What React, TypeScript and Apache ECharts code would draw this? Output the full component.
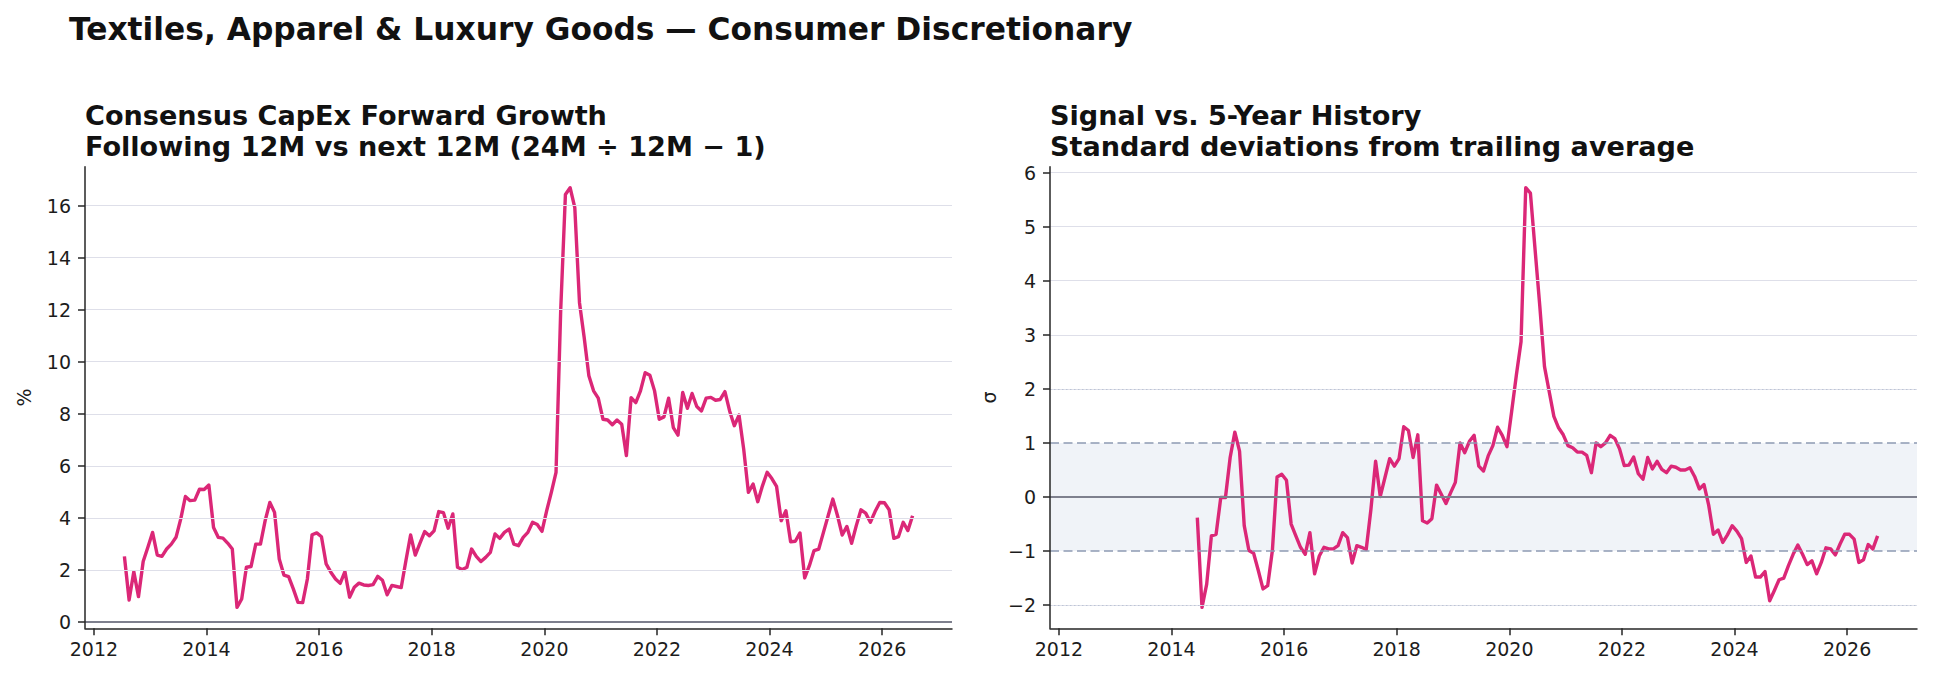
import React, { useEffect, useRef } from "react";
import * as echarts from "echarts";

// First monthly observation: July 2012
const startYear = 2012;
const startMonth = 7;
// The 5-year z-score needs 24 months of history before its first value
const sigmaStartOffset = 23;

// Consensus CapEx forward growth, % (monthly)
const capexGrowth = [
  2.52, 0.84, 1.93, 0.97, 2.32, 2.87, 3.44, 2.57, 2.52, 2.8, 2.99, 3.25,
  3.95, 4.82, 4.66, 4.68, 5.1, 5.09, 5.26, 3.63, 3.25, 3.22, 3.03, 2.8,
  0.56, 0.88, 2.1, 2.13, 2.99, 2.99, 3.89, 4.59, 4.21, 2.42, 1.8, 1.74,
  1.27, 0.75, 0.74, 1.65, 3.35, 3.42, 3.27, 2.23, 1.91, 1.65, 1.48, 1.93,
  0.95, 1.33, 1.49, 1.42, 1.4, 1.43, 1.75, 1.6, 1.04, 1.4, 1.36, 1.32,
  2.35, 3.34, 2.57, 3.03, 3.47, 3.31, 3.5, 4.24, 4.2, 3.6, 4.15, 2.1,
  2.01, 2.1, 2.8, 2.52, 2.32, 2.48, 2.67, 3.38, 3.21, 3.44, 3.57, 2.99,
  2.93, 3.25, 3.44, 3.83, 3.74, 3.48, 4.27, 4.98, 5.75, 12.0, 16.43, 16.69,
  15.92, 12.27, 10.93, 9.46, 8.88, 8.6, 7.79, 7.76, 7.58, 7.76, 7.6, 6.39,
  8.62, 8.43, 8.88, 9.58, 9.48, 8.88, 7.79, 7.88, 8.6, 7.47, 7.18, 8.82,
  8.21, 8.78, 8.28, 8.11, 8.6, 8.63, 8.52, 8.55, 8.85, 8.11, 7.54, 7.95,
  6.64, 4.98, 5.3, 4.62, 5.23, 5.75, 5.51, 5.21, 3.89, 4.27, 3.08, 3.1,
  3.42, 1.69, 2.16, 2.74, 2.8, 3.44, 4.08, 4.72, 4.08, 3.34, 3.67, 3.02,
  3.7, 4.31, 4.18, 3.83, 4.24, 4.59, 4.58, 4.31, 3.21, 3.28, 3.83, 3.51,
  4.08,
];

// Signal vs. trailing 5-year history, standard deviations (monthly)
const zScore = [
  -0.38, -2.04, -1.61, -0.72, -0.69, -0.01, -0.01, 0.73, 1.2, 0.85, -0.53, -0.99,
  -1.04, -1.36, -1.7, -1.64, -0.99, 0.37, 0.42, 0.31, -0.5, -0.72, -0.93, -1.06,
  -0.66, -1.42, -1.09, -0.93, -0.96, -0.96, -0.9, -0.66, -0.75, -1.22, -0.9, -0.93,
  -0.97, -0.23, 0.66, 0.01, 0.36, 0.71, 0.57, 0.71, 1.3, 1.23, 0.73, 1.15,
  -0.44, -0.48, -0.4, 0.22, 0.05, -0.12, 0.08, 0.27, 1.0, 0.82, 1.03, 1.14,
  0.57, 0.48, 0.76, 0.95, 1.29, 1.14, 0.93, 1.58, 2.25, 2.87, 5.72, 5.62,
  4.57, 3.53, 2.41, 1.95, 1.49, 1.28, 1.15, 0.95, 0.91, 0.83, 0.83, 0.77,
  0.45, 1.0, 0.93, 1.0, 1.14, 1.08, 0.89, 0.58, 0.59, 0.74, 0.43, 0.33,
  0.73, 0.52, 0.66, 0.51, 0.45, 0.57, 0.55, 0.5, 0.5, 0.54, 0.38, 0.15,
  0.23, -0.15, -0.69, -0.61, -0.84, -0.7, -0.53, -0.63, -0.77, -1.21, -1.09, -1.48,
  -1.48, -1.38, -1.92, -1.73, -1.53, -1.5, -1.27, -1.06, -0.89, -1.06, -1.25, -1.18,
  -1.42, -1.21, -0.94, -0.96, -1.07, -0.87, -0.69, -0.69, -0.78, -1.21, -1.16, -0.88,
  -0.96, -0.72,
];

const yearTicks = [2012, 2014, 2016, 2018, 2020, 2022, 2024, 2026];
const growthTicks = [0, 2, 4, 6, 8, 10, 12, 14, 16];
const sigmaTicks = [-2, -1, 0, 1, 2, 3, 4, 5, 6];
const sigmaBand = [-1, 1];
const sigmaGuides = [-2, 2];

const suptitle = "Textiles, Apparel & Luxury Goods \u2014 Consumer Discretionary";
const leftTitle = "Consensus CapEx Forward Growth\nFollowing 12M vs next 12M (24M \u00f7 12M \u2212 1)";
const rightTitle = "Signal vs. 5-Year History\nStandard deviations from trailing average";

const FONT = "DejaVu Sans";
const INK = "#1c1c1c";
const SPINE = "#262626";
const PINK = "#db2777";
const GRID = "#dedfe9";
const ZERO = "#7e808e";

// decimal year at mid-month for observation k
const monthToYear = (k: number) => startYear + (startMonth - 1 + k + 0.5) / 12;

const padRange = (lo: number, hi: number, frac = 0.05) => {
  const span = hi - lo;
  return [lo - span * frac, hi + span * frac];
};

const fmt = (v: number) => (v < 0 ? "\u2212" + Math.abs(v) : String(v));

export default function App() {
  const ref = useRef<HTMLDivElement>(null);

  useEffect(() => {
    if (!ref.current) return;
    const chart = echarts.init(ref.current, undefined, { renderer: "svg" });

    const growthData = capexGrowth.map((v, k) => [monthToYear(k), v]);
    const sigmaData = zScore.map((v, k) => [monthToYear(k + sigmaStartOffset), v]);

    const [xMin, xMax] = padRange(monthToYear(0), monthToYear(capexGrowth.length - 1));
    const [gMin, gMax] = padRange(Math.min(...capexGrowth), Math.max(...capexGrowth));
    const [sMin, sMax] = padRange(Math.min(...zScore), Math.max(...zScore));

    const gridBox = { top: 166.7, height: 461.6, width: 867 };

    const xAxisFor = (gridIndex: number) => ({
      type: "value",
      gridIndex,
      min: xMin,
      max: xMax,
      z: 6,
      axisLine: { show: true, onZero: false, lineStyle: { color: SPINE, width: 1.5 } },
      axisTick: { show: true, customValues: yearTicks, length: 7, lineStyle: { color: SPINE, width: 1.5 } },
      axisLabel: {
        customValues: yearTicks,
        formatter: (v: number) => String(v),
        fontSize: 19,
        fontFamily: FONT,
        color: INK,
        margin: 11,
      },
      splitLine: { show: false },
    });

    const yAxisFor = (gridIndex: number, min: number, max: number, ticks: number[], name: string) => ({
      type: "value",
      gridIndex,
      min,
      max,
      z: 6,
      name,
      nameLocation: "middle",
      nameGap: 52,
      nameRotate: 90,
      nameTextStyle: { fontSize: 19, fontFamily: FONT, color: INK },
      axisLine: { show: true, onZero: false, lineStyle: { color: SPINE, width: 1.5 } },
      axisTick: { show: true, customValues: ticks, length: 7, lineStyle: { color: SPINE, width: 1.5 } },
      axisLabel: {
        customValues: ticks,
        formatter: fmt,
        fontSize: 19,
        fontFamily: FONT,
        color: INK,
        margin: 14,
      },
      splitLine: { show: false },
    });

    const hLine = (y: number, color: string, width: number, type: any) => ({
      yAxis: y,
      lineStyle: { color, width, type },
    });

    const markLineBase = {
      silent: true,
      symbol: ["none", "none"],
      label: { show: false },
      emphasis: { disabled: true },
      animation: false,
    };

    const lineStyle = { color: PINK, width: 3.4, join: "round", cap: "butt" };

    chart.setOption({
      animation: false,
      backgroundColor: "#ffffff",
      title: [
        {
          text: suptitle,
          left: 69,
          top: 13,
          padding: 0,
          textStyle: { fontSize: 31.3, fontWeight: "bold", fontFamily: FONT, color: "#111", lineHeight: 31 },
        },
        {
          text: leftTitle,
          left: 85,
          top: 100,
          padding: 0,
          textStyle: { fontSize: 27.1, fontWeight: "bold", fontFamily: FONT, color: "#111", lineHeight: 31.3 },
        },
        {
          text: rightTitle,
          left: 1050,
          top: 100,
          padding: 0,
          textStyle: { fontSize: 27.1, fontWeight: "bold", fontFamily: FONT, color: "#111", lineHeight: 31.3 },
        },
      ],
      grid: [
        { left: 85, ...gridBox },
        { left: 1050, ...gridBox },
      ],
      xAxis: [xAxisFor(0), xAxisFor(1)],
      yAxis: [
        yAxisFor(0, gMin, gMax, growthTicks, "%"),
        yAxisFor(1, sMin, sMax, sigmaTicks, "\u03c3"),
      ],
      series: [
        // left panel: gridlines and zero line
        {
          type: "line",
          xAxisIndex: 0,
          yAxisIndex: 0,
          data: [],
          z: 2,
          silent: true,
          markLine: {
            ...markLineBase,
            data: [
              ...growthTicks.filter((t) => t !== 0).map((t) => hLine(t, GRID, 1.2, "solid")),
              hLine(0, ZERO, 2, "solid"),
            ],
          },
        },
        {
          type: "line",
          name: "CapEx growth",
          xAxisIndex: 0,
          yAxisIndex: 0,
          data: growthData,
          showSymbol: false,
          symbol: "none",
          silent: true,
          z: 4,
          lineStyle,
        },
        // right panel: ±1σ band
        {
          type: "line",
          xAxisIndex: 1,
          yAxisIndex: 1,
          data: [],
          z: 1,
          silent: true,
          markArea: {
            silent: true,
            itemStyle: { color: "#f0f3f8", opacity: 1 },
            label: { show: false },
            data: [[{ yAxis: sigmaBand[0] }, { yAxis: sigmaBand[1] }]],
          },
        },
        // right panel: gridlines and reference lines
        {
          type: "line",
          xAxisIndex: 1,
          yAxisIndex: 1,
          data: [],
          z: 2,
          silent: true,
          markLine: {
            ...markLineBase,
            data: [
              ...sigmaTicks
                .filter((t) => !sigmaBand.includes(t) && t !== 0)
                .map((t) => hLine(t, GRID, 1.2, "solid")),
              ...sigmaGuides.map((t) => hLine(t, "#bcc5d6", 1.2, [1.5, 2.5])),
              ...sigmaBand.map((t) => hLine(t, "#8d9ab2", 1.5, [9, 4.5])),
              hLine(0, ZERO, 2, "solid"),
            ],
          },
        },
        {
          type: "line",
          name: "z-score",
          xAxisIndex: 1,
          yAxisIndex: 1,
          data: sigmaData,
          showSymbol: false,
          symbol: "none",
          silent: true,
          z: 4,
          lineStyle,
        },
      ],
    });

    return () => chart.dispose();
  }, []);

  return (
    <div
      ref={ref}
      style={{ position: "fixed", left: 0, top: 0, width: 1934, height: 679, background: "#fff" }}
    />
  );
}
